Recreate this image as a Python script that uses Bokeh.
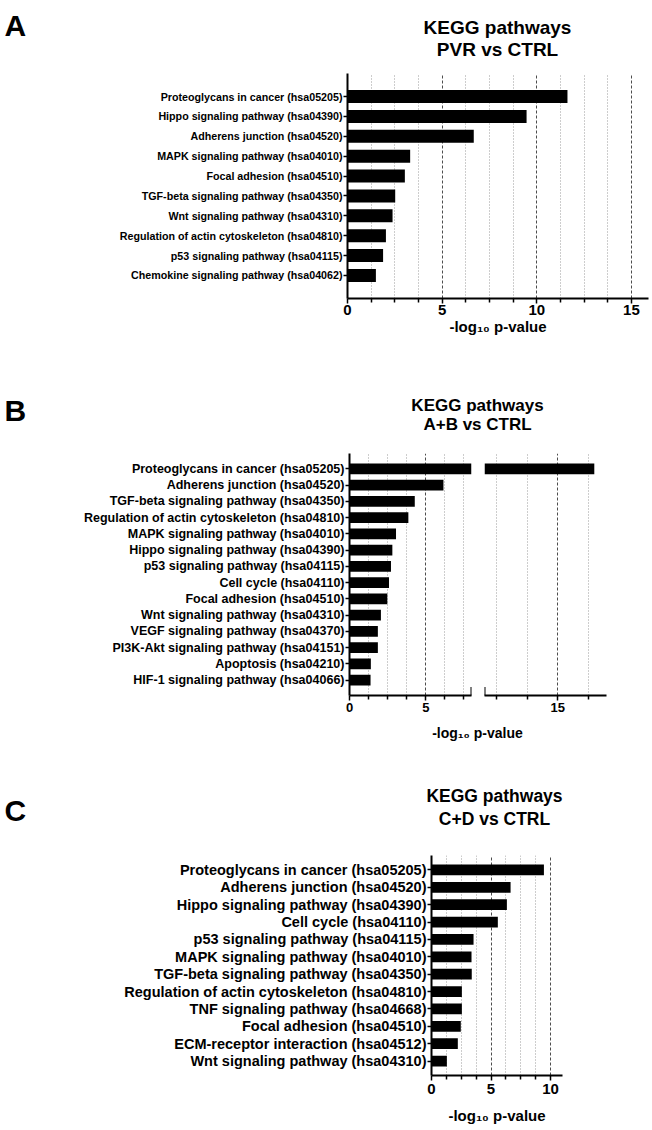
from bokeh.plotting import figure
from bokeh.models import (FactorRange, Range1d, FixedTicker, Label,
                          ColumnDataSource, CDSView, BooleanFilter)
from bokeh.layouts import column, row
from bokeh.embed import file_html
from bokeh.resources import INLINE

# ---------------- data ----------------
A_pathways = [
    "Proteoglycans in cancer (hsa05205)",
    "Hippo signaling pathway (hsa04390)",
    "Adherens junction (hsa04520)",
    "MAPK signaling pathway (hsa04010)",
    "Focal adhesion (hsa04510)",
    "TGF-beta signaling pathway (hsa04350)",
    "Wnt signaling pathway (hsa04310)",
    "Regulation of actin cytoskeleton (hsa04810)",
    "p53 signaling pathway (hsa04115)",
    "Chemokine signaling pathway (hsa04062)",
]
A_values = [11.62, 9.46, 6.67, 3.31, 3.03, 2.52, 2.38, 2.03, 1.88, 1.50]

B_pathways = [
    "Proteoglycans in cancer (hsa05205)",
    "Adherens junction (hsa04520)",
    "TGF-beta signaling pathway (hsa04350)",
    "Regulation of actin cytoskeleton (hsa04810)",
    "MAPK signaling pathway (hsa04010)",
    "Hippo signaling pathway (hsa04390)",
    "p53 signaling pathway (hsa04115)",
    "Cell cycle (hsa04110)",
    "Focal adhesion (hsa04510)",
    "Wnt signaling pathway (hsa04310)",
    "VEGF signaling pathway (hsa04370)",
    "PI3K-Akt signaling pathway (hsa04151)",
    "Apoptosis (hsa04210)",
    "HIF-1 signaling pathway (hsa04066)",
]
B_values = [18.0, 6.16, 4.28, 3.86, 3.05, 2.81, 2.72, 2.59, 2.48, 2.06, 1.86, 1.86, 1.40, 1.38]

C_pathways = [
    "Proteoglycans in cancer (hsa05205)",
    "Adherens junction (hsa04520)",
    "Hippo signaling pathway (hsa04390)",
    "Cell cycle (hsa04110)",
    "p53 signaling pathway (hsa04115)",
    "MAPK signaling pathway (hsa04010)",
    "TGF-beta signaling pathway (hsa04350)",
    "Regulation of actin cytoskeleton (hsa04810)",
    "TNF signaling pathway (hsa04668)",
    "Focal adhesion (hsa04510)",
    "ECM-receptor interaction (hsa04512)",
    "Wnt signaling pathway (hsa04310)",
]
C_values = [9.44, 6.64, 6.33, 5.57, 3.53, 3.36, 3.38, 2.55, 2.55, 2.46, 2.21, 1.29]

A_major = [0, 5, 10, 15]
A_minor = [1.25, 2.5, 3.75, 6.25, 7.5, 8.75, 11.25, 12.5, 13.75]
B_left_major = [0, 5]
B_left_minor = [1.25, 2.5, 3.75, 6.25, 7.5]
B_right_major = [15]
B_right_minor = [10, 12.5, 17.5]
C_major = [0, 5, 10]
C_minor = [1.25, 2.5, 3.75, 6.25, 7.5, 8.75]

XLABEL = "-log\u2081\u2080 p-value"
FONT = "Liberation Sans"


def bar_panel(cats, vals, width, height, xr, major, minor, bl, bt, bb, br,
              bar_h, pad, cat_size, tick_size, xlabel=None,
              xlabel_size="15px", show_y=True, label_standoff=0,
              tick_standoff=2):
    p = figure(
        width=width, height=height,
        y_range=FactorRange(factors=cats[::-1], range_padding=pad,
                            range_padding_units="absolute"),
        x_range=Range1d(*xr),
        output_backend="svg", toolbar_location=None,
        min_border_left=bl, min_border_top=bt, min_border_bottom=bb,
        min_border_right=br,
        y_axis_location="left" if show_y else None,
    )
    p.frame_align = False
    src = ColumnDataSource(data=dict(cat=cats, val=vals))
    # only the bars that reach into this (possibly broken) axis segment
    view = CDSView(filter=BooleanFilter([v > xr[0] for v in vals]))
    p.hbar(y="cat", left=0, right="val", height=bar_h, source=src, view=view,
           fill_color="black", line_color=None)
    p.outline_line_color = None
    p.background_fill_color = "white"
    p.border_fill_color = "white"

    ticker = FixedTicker(ticks=major, minor_ticks=minor)
    xa = p.xaxis[0]
    xa.ticker = ticker
    xa.axis_line_width = 2
    xa.axis_line_color = "black"
    xa.major_tick_line_width = 1.5
    xa.minor_tick_line_width = 1.5
    xa.major_tick_line_color = "black"
    xa.minor_tick_line_color = "black"
    xa.major_tick_out = 5
    xa.major_tick_in = 0
    xa.minor_tick_out = 4
    xa.minor_tick_in = 0
    xa.major_label_text_font = FONT
    xa.major_label_text_font_style = "bold"
    xa.major_label_text_font_size = tick_size
    xa.major_label_text_color = "black"
    xa.major_label_standoff = tick_standoff
    if xlabel:
        xa.axis_label = xlabel
        xa.axis_label_text_font = FONT
        xa.axis_label_text_font_style = "bold"
        xa.axis_label_text_font_size = xlabel_size
        xa.axis_label_text_color = "black"
        xa.axis_label_standoff = label_standoff

    g = p.xgrid[0]
    g.ticker = ticker
    g.grid_line_color = "#4d4d4d"
    g.grid_line_dash = "3 2"
    g.grid_line_width = 1
    g.minor_grid_line_color = "#9a9a9a"
    g.minor_grid_line_dash = "1 2"
    g.minor_grid_line_width = 1
    p.ygrid.visible = False

    if show_y:
        ya = p.yaxis[0]
        ya.axis_line_width = 2
        ya.axis_line_color = "black"
        ya.major_tick_out = 4
        ya.major_tick_in = 0
        ya.major_tick_line_width = 1.5
        ya.major_label_text_font = FONT
        ya.major_label_text_font_style = "bold"
        ya.major_label_text_font_size = cat_size
        ya.major_label_text_color = "black"
        ya.major_label_standoff = 1
    return p


def text_panel(width, height):
    p = figure(width=width, height=height, x_range=Range1d(0, width),
               y_range=Range1d(height, 0), min_border=0,
               x_axis_location=None, y_axis_location=None,
               output_backend="svg", toolbar_location=None)
    p.frame_align = False
    p.outline_line_color = None
    p.grid.visible = False
    return p


def text_label(p, text, x, y, size, align="left"):
    p.add_layout(Label(x=x, y=y, text=text, text_font=FONT,
                       text_font_style="bold", text_font_size=size,
                       text_align=align, text_baseline="alphabetic",
                       text_color="black"))


def break_cap(p, cats, pad, xpos):
    # short vertical bar marking the axis break, on the x-axis line
    base = -0.5 - pad / 2.0
    p.segment(x0=[xpos], x1=[xpos], y0=[(cats[-1], base - 0.3)],
              y1=[(cats[-1], base + 0.3)], line_color="black", line_width=2)


W = 652

# ---------------- panel A ----------------
tA = text_panel(W, 65)
text_label(tA, "A", 4, 25, "30px")
text_label(tA, "KEGG pathways", 497, 27, "19px", "center")
text_label(tA, "PVR vs CTRL", 497, 49, "19px", "center")

A_h, A_bl, A_bt, A_bb, A_br = 290, 347, 8, 57, 4
A_end = (W - A_bl - A_br) / 18.93
pA = bar_panel(A_pathways, A_values, W, A_h, (0, A_end), A_major, A_minor,
               A_bl, A_bt, A_bb, A_br, 0.65, 0.66, "10.7px", "15px",
               xlabel=XLABEL, xlabel_size="15px", label_standoff=0,
               tick_standoff=1)

# ---------------- panel B title ----------------
tB = text_panel(W, 90)
text_label(tB, "B", 4, 55, "30px")
text_label(tB, "KEGG pathways", 477, 50, "17px", "center")
text_label(tB, "A+B vs CTRL", 477, 69, "17px", "center")

# ---------------- panel B (broken axis) ----------------
B_h, B_bt, B_bb, B_pad = 273, 8, 23, 0.45
pBL = bar_panel(B_pathways, B_values, 482, B_h, (0, 8), B_left_major,
                B_left_minor, 349, B_bt, B_bb, 11, 0.66, B_pad, "12.5px",
                "13px")
pBR = bar_panel(B_pathways, B_values, 136, B_h, (9, 19), B_right_major,
                B_right_minor, 2, B_bt, B_bb, 12, 0.66, B_pad, "12.5px",
                "13px", show_y=False)
break_cap(pBL, B_pathways, B_pad, 8)
break_cap(pBR, B_pathways, B_pad, 9)

# ---------------- B axis label + panel C title ----------------
tC = text_panel(W, 127)
text_label(tC, XLABEL, 477, 14, "14px", "center")
text_label(tC, "C", 4, 92, "30px")
text_label(tC, "KEGG pathways", 494, 77, "17.5px", "center")
text_label(tC, "C+D vs CTRL", 494, 100, "17.5px", "center")

# ---------------- panel C ----------------
C_h, C_bl, C_bt, C_bb = 285, 431, 10, 55
pC = bar_panel(C_pathways, C_values, 582, C_h, (0, 11), C_major, C_minor,
               C_bl, C_bt, C_bb, 20, 0.62, 0.33, "14.5px", "15px",
               xlabel=XLABEL, xlabel_size="15px", label_standoff=10,
               tick_standoff=3)

layout = column(tA, pA, tB, row(pBL, pBR, spacing=0), tC, pC, spacing=0)
open("out.html", "w").write(file_html(layout, INLINE))
